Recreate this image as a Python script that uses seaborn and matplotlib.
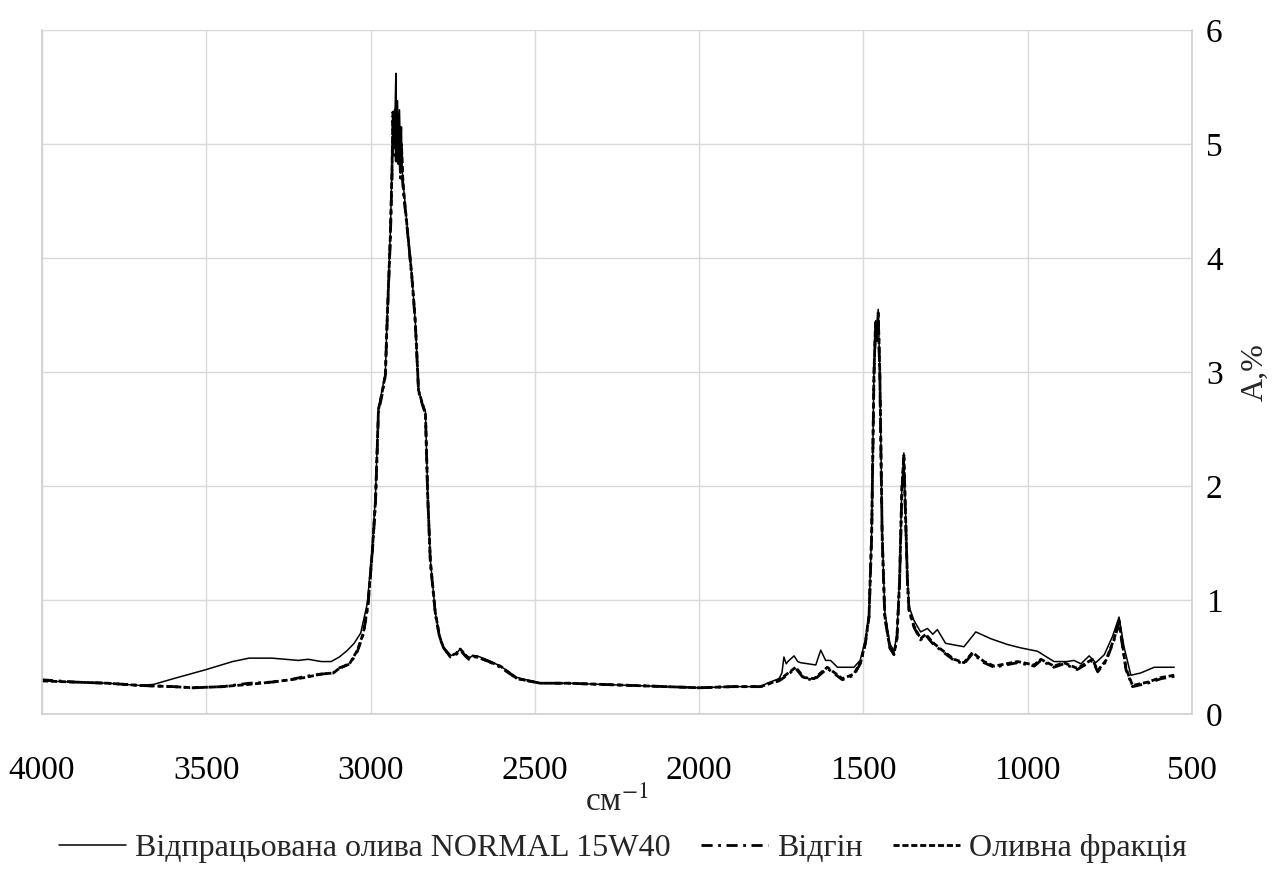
import matplotlib
matplotlib.use("Agg")
import matplotlib.pyplot as plt
import seaborn as sns
import pandas as pd

# ---- data ----
wn_oil = [4000, 3900, 3800, 3700, 3660, 3600, 3500, 3420, 3370, 3300, 3220, 3190, 3150, 3120,
          3095, 3070, 3050, 3030, 3010, 2995, 2985, 2976, 2965, 2955, 2950, 2940, 2935, 2932,
          2928, 2925, 2923, 2921, 2918, 2915, 2912, 2909, 2906, 2904, 2899, 2889, 2874, 2864,
          2854, 2843, 2833, 2826, 2818, 2803, 2790, 2778, 2757, 2740, 2727, 2712, 2701, 2690,
          2676, 2640, 2605, 2554, 2483, 2400, 2300, 2200, 2100, 2000, 1900, 1813, 1793, 1757,
          1748, 1742, 1735, 1730, 1711, 1700, 1691, 1645, 1630, 1615, 1600, 1579, 1529, 1510,
          1494, 1483, 1475, 1468, 1463, 1460, 1455, 1450, 1443, 1435, 1420, 1407, 1398, 1390,
          1383, 1377, 1372, 1366, 1361, 1346, 1326, 1305, 1289, 1275, 1250, 1194, 1158, 1112,
          1062, 1021, 970, 920, 880, 859, 838, 813, 793, 767, 742, 722, 707, 686, 656, 615,
          585, 554]
a_oil = [0.29, 0.28, 0.27, 0.25, 0.26, 0.31, 0.39, 0.46, 0.49, 0.49, 0.47, 0.48, 0.46, 0.46,
         0.50, 0.56, 0.62, 0.71, 0.97, 1.45, 1.92, 2.69, 2.84, 2.99, 3.45, 4.21, 4.78, 5.25,
         5.05, 5.35, 5.62, 5.10, 5.38, 4.95, 5.30, 4.90, 5.15, 4.78, 4.60, 4.29, 3.83, 3.45,
         2.84, 2.73, 2.65, 1.92, 1.35, 0.89, 0.68, 0.59, 0.51, 0.53, 0.57, 0.52, 0.49, 0.51,
         0.51, 0.47, 0.42, 0.32, 0.27, 0.27, 0.26, 0.25, 0.24, 0.23, 0.24, 0.24, 0.27, 0.31,
         0.36, 0.50, 0.44, 0.46, 0.51, 0.46, 0.45, 0.43, 0.56, 0.47, 0.47, 0.41, 0.41, 0.47,
         0.65, 0.88, 1.60, 3.00, 3.45, 3.30, 3.55, 3.00, 1.60, 0.90, 0.62, 0.55, 0.70, 1.20,
         2.00, 2.29, 1.80, 1.20, 0.94, 0.82, 0.72, 0.75, 0.70, 0.74, 0.62, 0.59, 0.72, 0.66,
         0.61, 0.58, 0.55, 0.46, 0.46, 0.47, 0.44, 0.51, 0.45, 0.52, 0.68, 0.85, 0.59, 0.34,
         0.36, 0.41, 0.41, 0.41]

wn_dist = [4000, 3900, 3800, 3700, 3600, 3540, 3450, 3370, 3300, 3245, 3200, 3150, 3113, 3100,
           3080, 3062, 3040, 3022, 3008, 2995, 2985, 2976, 2965, 2955, 2950, 2940, 2935, 2932,
           2928, 2925, 2922, 2918, 2915, 2912, 2909, 2906, 2902, 2899, 2889, 2874, 2864, 2854,
           2843, 2833, 2826, 2818, 2803, 2790, 2778, 2757, 2740, 2727, 2712, 2701, 2690, 2676,
           2640, 2605, 2554, 2483, 2400, 2300, 2200, 2100, 2000, 1900, 1813, 1793, 1757, 1742,
           1706, 1681, 1650, 1610, 1564, 1529, 1508, 1494, 1483, 1475, 1468, 1463, 1460, 1455,
           1450, 1443, 1435, 1420, 1407, 1398, 1390, 1383, 1377, 1372, 1366, 1361, 1346, 1326,
           1310, 1290, 1265, 1224, 1194, 1168, 1133, 1102, 1031, 980, 960, 920, 890, 849, 803,
           787, 762, 737, 722, 701, 681, 635, 594, 554]
a_dist = [0.30, 0.28, 0.27, 0.25, 0.24, 0.23, 0.24, 0.27, 0.28, 0.30, 0.33, 0.35, 0.36, 0.40,
          0.42, 0.44, 0.55, 0.70, 0.95, 1.40, 1.85, 2.65, 2.80, 2.97, 3.40, 4.15, 4.70, 5.20,
          4.90, 5.25, 4.85, 5.20, 4.80, 5.10, 4.70, 4.95, 4.65, 4.55, 4.27, 3.82, 3.44, 2.83,
          2.72, 2.63, 1.90, 1.33, 0.88, 0.67, 0.58, 0.50, 0.52, 0.56, 0.51, 0.48, 0.50, 0.50,
          0.46, 0.41, 0.31, 0.27, 0.27, 0.26, 0.25, 0.24, 0.23, 0.24, 0.24, 0.26, 0.29, 0.32,
          0.40, 0.31, 0.30, 0.40, 0.30, 0.34, 0.45, 0.62, 0.85, 1.55, 2.95, 3.40, 3.25, 3.50,
          2.95, 1.55, 0.85, 0.58, 0.52, 0.66, 1.15, 1.95, 2.25, 1.75, 1.15, 0.90, 0.76, 0.65,
          0.69, 0.62, 0.56, 0.47, 0.44, 0.53, 0.45, 0.41, 0.45, 0.42, 0.47, 0.41, 0.44, 0.39,
          0.47, 0.37, 0.46, 0.65, 0.80, 0.39, 0.24, 0.27, 0.31, 0.33]

wn_frac = wn_dist
a_frac = [0.29, 0.28, 0.27, 0.25, 0.24, 0.23, 0.24, 0.26, 0.28, 0.30, 0.32, 0.35, 0.36, 0.39,
          0.42, 0.45, 0.56, 0.71, 0.96, 1.42, 1.88, 2.67, 2.82, 2.98, 3.42, 4.18, 4.74, 5.28,
          4.95, 5.30, 4.88, 5.28, 4.85, 5.15, 4.75, 5.00, 4.70, 4.58, 4.28, 3.83, 3.45, 2.84,
          2.73, 2.64, 1.91, 1.34, 0.89, 0.68, 0.58, 0.51, 0.53, 0.57, 0.52, 0.49, 0.51, 0.50,
          0.46, 0.42, 0.31, 0.27, 0.27, 0.26, 0.25, 0.24, 0.23, 0.24, 0.24, 0.26, 0.30, 0.33,
          0.41, 0.32, 0.31, 0.41, 0.31, 0.35, 0.46, 0.63, 0.86, 1.58, 2.98, 3.45, 3.28, 3.52,
          2.98, 1.58, 0.86, 0.59, 0.53, 0.67, 1.17, 1.98, 2.27, 1.77, 1.17, 0.91, 0.77, 0.66,
          0.70, 0.63, 0.57, 0.48, 0.45, 0.54, 0.46, 0.42, 0.46, 0.43, 0.48, 0.42, 0.45, 0.40,
          0.48, 0.38, 0.47, 0.66, 0.82, 0.40, 0.25, 0.28, 0.32, 0.34]

labels = ["Відпрацьована олива NORMAL 15W40", "Відгін", "Оливна фракція"]
x_ticks = [4000, 3500, 3000, 2500, 2000, 1500, 1000, 500]
y_ticks = [0, 1, 2, 3, 4, 5, 6]

# ---- style ----
sns.set_theme(style="whitegrid")
plt.rcParams["font.family"] = ["Liberation Serif", "DejaVu Serif"]
plt.rcParams["mathtext.fontset"] = "stix"

fig = plt.figure(figsize=(12.77, 8.75), dpi=100)
ax = fig.add_axes([42 / 1277, 1 - 714 / 875, (1192 - 42) / 1277, (714 - 30) / 875])

styles = [dict(lw=1.1, linestyle="-"),
          dict(lw=2.0, linestyle=(0, (4, 2, 1, 2))),
          dict(lw=2.0, linestyle=(0, (2.2, 1)))]
series = [(wn_oil, a_oil), (wn_dist, a_dist), (wn_frac, a_frac)]
for (wn, a), lab, st in zip(series, labels, styles):
    df = pd.DataFrame({"wn": wn, "A": a})
    sns.lineplot(data=df, x="wn", y="A", ax=ax, color="black", label=lab,
                 estimator=None, sort=False, **st)

ax.set_xlim(4000, 500)
ax.set_ylim(0, 6)
ax.set_xticks(x_ticks)
ax.set_yticks(y_ticks)
ax.yaxis.tick_right()
ax.yaxis.set_label_position("right")
ax.tick_params(axis="both", length=0, labelsize=24, colors="black")
ax.tick_params(axis="x", pad=30)
ax.tick_params(axis="y", pad=10)
ax.grid(True, color="#d9d9d9", lw=1.0)
for s in ax.spines.values():
    s.set_color("#d0d0d0")
    s.set_linewidth(1.2)
ax.spines["top"].set_visible(False)

ax.set_xlabel("см$^{-1}$", fontsize=24, labelpad=0)
ax.set_ylabel("A,%", fontsize=23, labelpad=13)

ax.legend(loc="center", bbox_to_anchor=(0.505, -0.196), ncol=3, frameon=False,
          fontsize=23, handlelength=2.1, handletextpad=0.28, columnspacing=0.95,
          borderaxespad=0, borderpad=0)

fig.savefig("out.png", dpi=100, facecolor="white")
